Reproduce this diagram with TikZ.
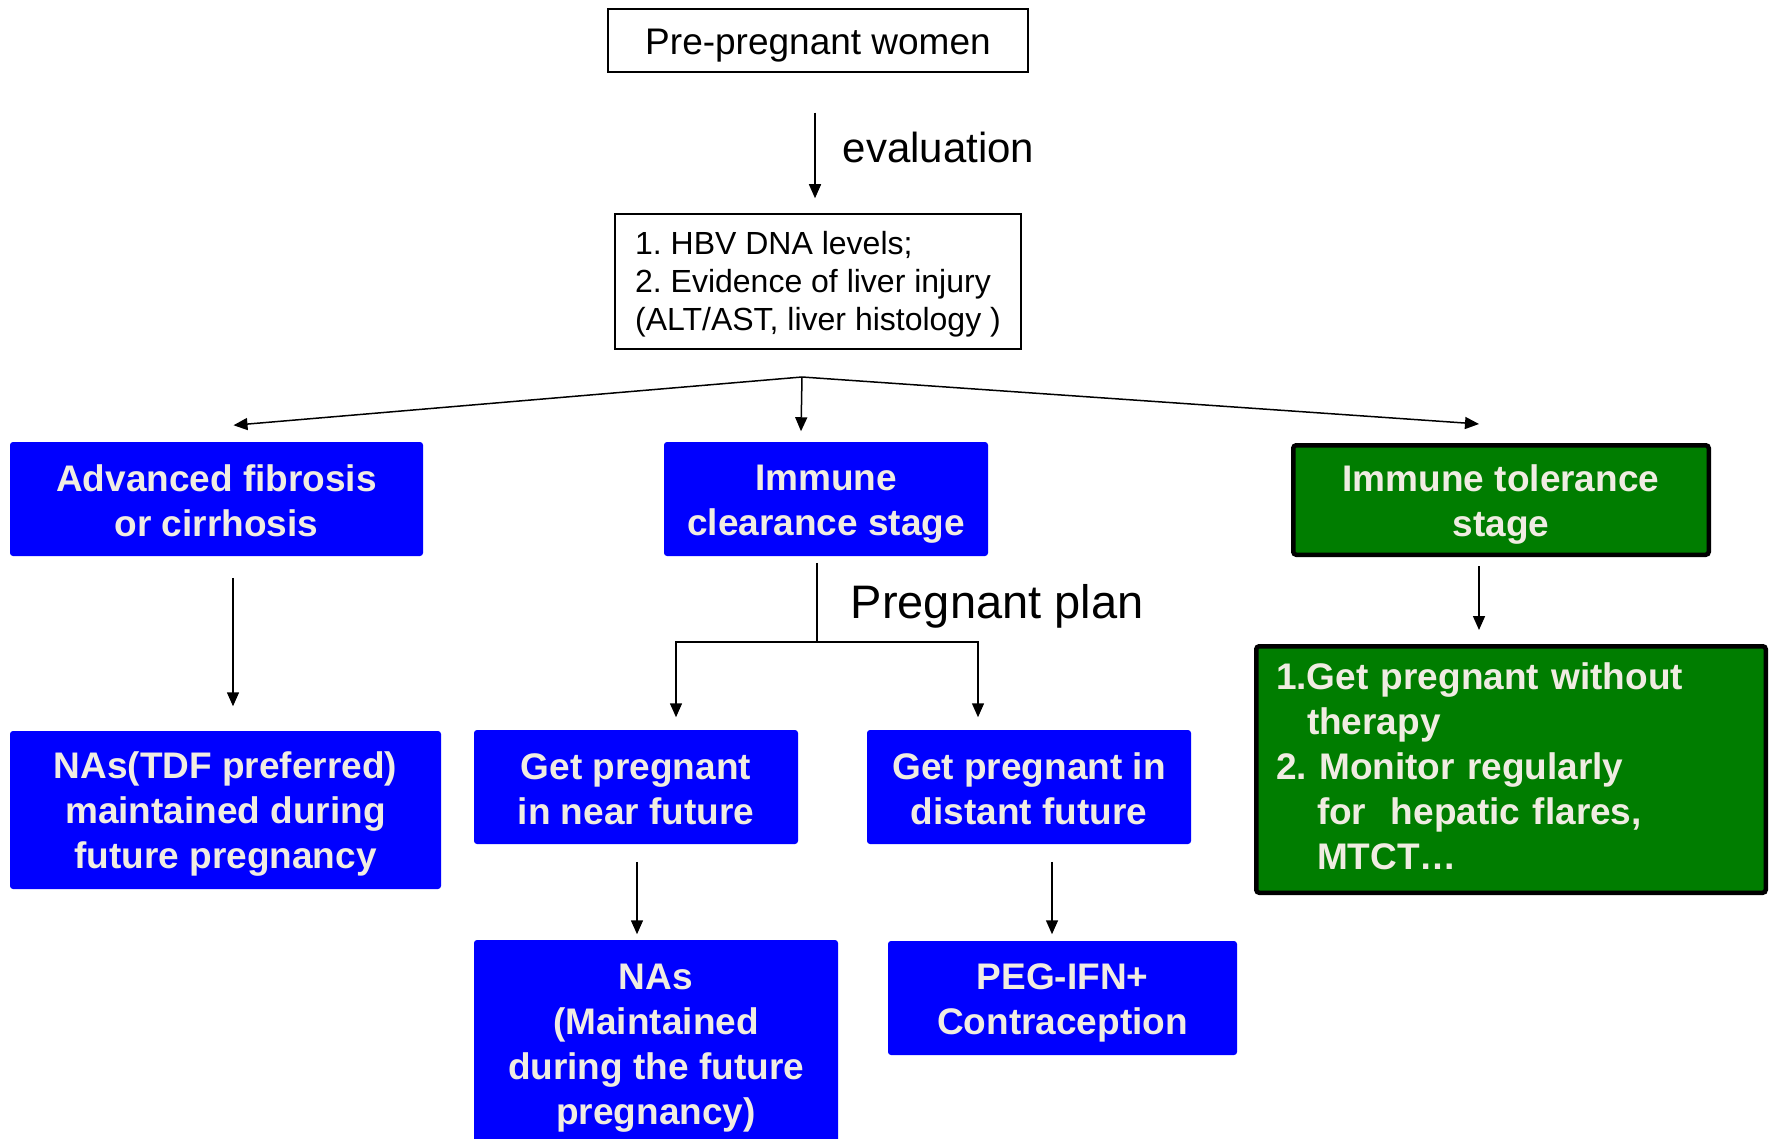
\documentclass[tikz,border=0pt]{standalone}
\usepackage{fontspec}
\setmainfont{Liberation Sans}
\frenchspacing
\usetikzlibrary{positioning,arrows.meta}
\definecolor{boxblue}{RGB}{0,0,255}
\definecolor{boxgreen}{RGB}{0,125,0}
\definecolor{boxtext}{RGB}{240,236,226}
% fixed line height, as in the slide text boxes
\newcommand{\bs}{\rule[-6pt]{0pt}{41pt}}
\newcommand{\hs}{\rule[-5pt]{0pt}{33pt}}
\tikzset{
  plainbox/.style={draw, line width=1.5pt, inner sep=0pt},
  bluebox/.style={fill=boxblue, text=boxtext, rounded corners=3pt, inner sep=0pt, align=center,
    font=\bfseries\fontsize{37}{45}\selectfont},
  greenbox/.style={bluebox, fill=boxgreen, draw=black, line width=4.5pt},
}

\begin{document}
\begin{tikzpicture}[x=1pt, y=-1pt, line width=1.5pt, >={Triangle[length=14pt,width=12pt]}]
    \clip (0,0) rectangle (1771,1139);
    \fill[white] (0,0) rectangle (1771,1139);

    \node[plainbox, minimum width=420pt, minimum height=63pt, text height=37pt, text depth=8pt,
      font=\fontsize{37}{45}\selectfont] at (818,40.5) (pre) {Pre-pregnant women};
    \node[anchor=base west, inner sep=0pt, font=\fontsize{42}{50}\selectfont] at (842,163) (evallabel) {evaluation};
    \node[plainbox, minimum width=406pt, minimum height=135pt, align=left,
      font=\fontsize{32}{38}\selectfont] at (818,281.5) (hbv)
      {\hs1. HBV DNA levels;\\2. Evidence of liver injury\\(ALT/AST, liver histology )\hs};

    \node[bluebox, minimum width=413pt, minimum height=114pt] at (216.5,499) (fib) {\bs Advanced fibrosis\\or cirrhosis\bs};
    \node[bluebox, minimum width=324pt, minimum height=114pt] at (826,499) (clear) {\bs Immune\\clearance stage\bs};
    \node[greenbox, minimum width=415.5pt, minimum height=109.5pt] at (1501,500) (tol) {\bs Immune tolerance\\stage\bs};

    \node[bluebox, minimum width=431pt, minimum height=158pt] at (225.5,810) (ta)
      {\bs NAs(TDF preferred)\\maintained during\\future pregnancy\bs};
    \node[anchor=base west, inner sep=0pt, font=\fontsize{47}{56}\selectfont] at (850,618) (planlabel) {Pregnant plan};
    \node[bluebox, minimum width=324pt, minimum height=114pt] at (636,787) (near) {\bs Get pregnant\\in near future\bs};
    \node[bluebox, minimum width=324pt, minimum height=114pt] at (1029,787) (dist) {\bs Get pregnant in\\distant future\bs};
    \node[greenbox, minimum width=509.5pt, minimum height=246.5pt, align=left, inner xsep=19.5pt, text width=470pt]
      at (1511,769.5) (care)
      {1.Get pregnant without\\\hspace*{31pt}therapy\\2. Monitor regularly\\\hspace*{41pt}for\ \ hepatic flares,\\\hspace*{41pt}MTCT…\bs};

    \node[bluebox, minimum width=364pt, minimum height=206pt] at (656,1043) (nas)
      {\bs NAs\\(Maintained\\during the future\\pregnancy)\bs};
    \node[bluebox, minimum width=349pt, minimum height=114pt] at (1062.5,998) (peg) {\bs PEG-IFN+\\Contraception\bs};

    \draw[->, shorten <=40pt, shorten >=15pt] ([xshift=-3pt]pre.south) -- ([xshift=-3pt]hbv.north);
    \coordinate (split) at (802,377);
    \draw[->] (split) -- ([xshift=17pt,yshift=16pt]fib.north);
    \draw[->] (split) -- ([xshift=-25pt,yshift=10pt]clear.north);
    \draw[->] (split) -- ([xshift=-22pt,yshift=19pt]tol.north);
    \draw[->, shorten <=21pt, shorten >=24pt] ([xshift=16.5pt]fib.south) -- ([xshift=7.5pt]ta.north);
    \coordinate (fork) at (817,642);
    \draw ([xshift=-9pt,yshift=-6pt]clear.south) -- (fork);
    \draw[->] (fork) -| ([xshift=40pt,yshift=12pt]near.north);
    \draw[->] (fork) -| ([xshift=-51pt,yshift=12pt]dist.north);
    \draw[->, shorten <=17pt, shorten >=5pt] ([xshift=1pt]near.south) -- ([xshift=-19pt]nas.north);
    \draw[->, shorten <=17pt, shorten >=6pt] ([xshift=23pt]dist.south) -- ([xshift=-10.5pt]peg.north);
    \draw[->, shorten <=9pt, shorten >=14pt] ([xshift=-22pt]tol.south) -- ([xshift=-32pt]care.north);
\end{tikzpicture}
\end{document}
